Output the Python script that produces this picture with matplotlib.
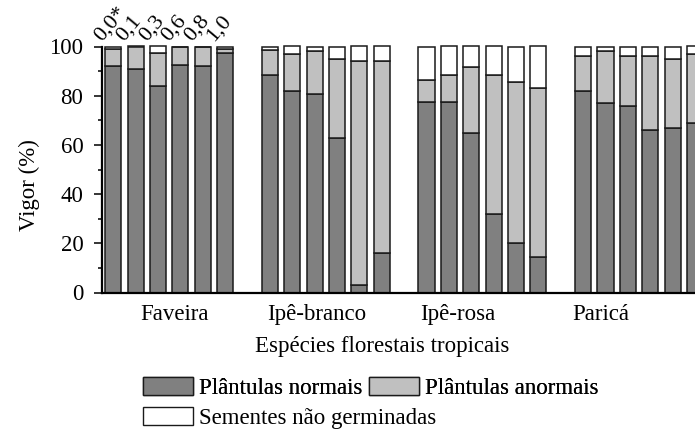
import numpy as np
import matplotlib
matplotlib.use('Agg')
import matplotlib.pyplot as plt
from matplotlib.ticker import MultipleLocator
from matplotlib.patches import Patch

plt.rcParams['font.family'] = ['Liberation Serif', 'DejaVu Serif']
plt.rcParams['font.size'] = 16.5

# ---------------------------------------------------------------------------
# Data: vigour test (%) per species and dose
# ---------------------------------------------------------------------------

species = ['Faveira', 'Ipê-branco', 'Ipê-rosa', 'Paricá']
doses = ['0,0*', '0,1', '0,3', '0,6', '0,8', '1,0']

normais_faveira = [92, 91, 84, 92.5, 92, 97.5]
normais_ipe_branco = [88.5, 82, 80.5, 63, 3, 16]
normais_ipe_rosa = [77.5, 77.5, 65, 32, 20, 14.5]
normais_parica = [82, 77, 76, 66, 67, 69]

anormais_faveira = [7, 9, 13.5, 7.5, 8, 1.5]
anormais_ipe_branco = [10, 15, 17.5, 32, 91, 78]
anormais_ipe_rosa = [9, 11, 26.5, 56.5, 65.5, 68.5]
anormais_parica = [14, 21, 20, 30, 28, 28]

nao_germ_faveira = [1, 0, 2.5, 0, 0, 1]
nao_germ_ipe_branco = [1.5, 3, 2, 5, 6, 6]
nao_germ_ipe_rosa = [13.5, 11.5, 8.5, 11.5, 14.5, 17]
nao_germ_parica = [4, 2, 4, 4, 5, 3]

normais = np.array([normais_faveira, normais_ipe_branco, normais_ipe_rosa, normais_parica])
anormais = np.array([anormais_faveira, anormais_ipe_branco, anormais_ipe_rosa, anormais_parica])
nao_germ = np.array([nao_germ_faveira, nao_germ_ipe_branco, nao_germ_ipe_rosa, nao_germ_parica])

# ---------------------------------------------------------------------------
# Plot
# ---------------------------------------------------------------------------

C_NORMAL = '#808080'
C_ANORMAL = '#c0c0c0'
C_NAO = '#ffffff'
EDGE = '#1a1a1a'

n_groups, n_bars = normais.shape
x = (np.arange(n_groups)[:, None] * (n_bars + 1) + np.arange(n_bars)[None, :]).ravel()
width = 0.72

fig = plt.figure(figsize=(6.95, 4.29), dpi=100)
ax = fig.add_axes([102 / 695, 136.5 / 429, 593 / 695, 246 / 429])

bar_kw = dict(width=width, edgecolor=EDGE, linewidth=1.1, clip_on=False)
b1 = normais.ravel()
b2 = anormais.ravel()
b3 = nao_germ.ravel()
ax.bar(x, b1, color=C_NORMAL, **bar_kw)
ax.bar(x, b2, bottom=b1, color=C_ANORMAL, **bar_kw)
ax.bar(x, b3, bottom=b1 + b2, color=C_NAO, **bar_kw)

# dose labels above the first group
for j, d in enumerate(doses):
    ax.text(x[j] - 0.35, 100.8, d, rotation=50, rotation_mode='anchor',
            ha='left', va='bottom', fontsize=16)

ax.set_xlim(-0.5, 26.0)
ax.set_ylim(0, 100)

label_pos = [2.72, 9.1, 15.38, 21.8]
ax.set_xticks(label_pos)
ax.set_xticklabels(species)
ax.tick_params(axis='x', length=0, pad=8.5)

ax.yaxis.set_major_locator(MultipleLocator(20))
ax.yaxis.set_minor_locator(MultipleLocator(10))
ax.tick_params(axis='y', which='major', direction='out', length=6, width=1.1, pad=7.5)
ax.tick_params(axis='y', which='minor', direction='out', length=3, width=1.1)

for s in ['top', 'right']:
    ax.spines[s].set_visible(False)
for s in ['left', 'bottom']:
    ax.spines[s].set_linewidth(1.6)

ax.set_ylabel('Vigor (%)')
ax.yaxis.set_label_coords(-0.105, 0.437)
ax.set_xlabel('Espécies florestais tropicais')
ax.xaxis.set_label_coords((382.5 - 102) / 593, -0.175)

h_norm = Patch(facecolor=C_NORMAL, edgecolor=EDGE, linewidth=1.0, label='Plântulas normais')
h_anor = Patch(facecolor=C_ANORMAL, edgecolor=EDGE, linewidth=1.0, label='Plântulas anormais')
h_nao = Patch(facecolor=C_NAO, edgecolor=EDGE, linewidth=1.0, label='Sementes não germinadas')

leg_kw = dict(frameon=False, borderpad=0, borderaxespad=0, handlelength=2.2,
              handleheight=0.85, handletextpad=0.25, columnspacing=0.3,
              loc='upper left')
leg1 = fig.legend(handles=[h_norm, h_anor], ncol=2,
                  bbox_to_anchor=(142.5 / 695, 1 - 377 / 429), **leg_kw)
fig.add_artist(leg1)
fig.legend(handles=[h_nao], bbox_to_anchor=(142.5 / 695, 1 - 407 / 429), **leg_kw)

fig.savefig('out.png', dpi=100)
